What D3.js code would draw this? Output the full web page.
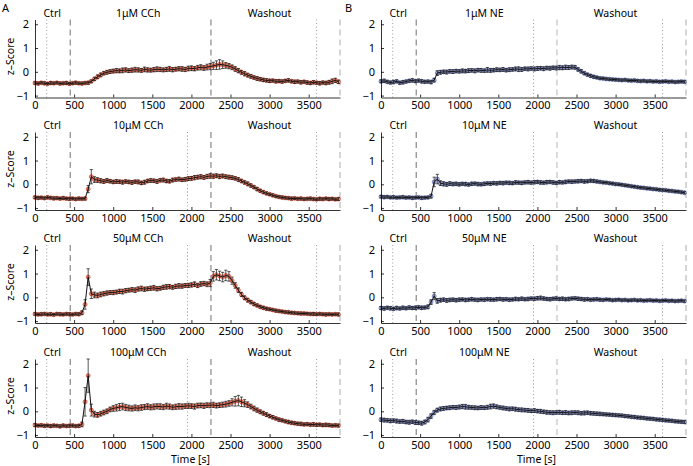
<!DOCTYPE html>
<html>
<head>
<meta charset="utf-8">
<script src="https://cdn.jsdelivr.net/npm/d3@7"></script>
<style>
  body { margin: 0; background: #fff; }
  svg { font-family: "Noto Sans", "Open Sans", sans-serif; }
</style>
</head>
<body>
<div id="wrapper"></div>
<script>
/* global d3 */

// sample times (s), one mean every 40 s
const times = d3.range(0, 3881, 40)

// panel labels
const phaseLabels = ["Ctrl", "Washout"]
const cchLabels = ["1\u03bcM CCh", "10\u03bcM CCh", "50\u03bcM CCh", "100\u03bcM CCh"]
const neLabels = ["1\u03bcM NE", "10\u03bcM NE", "50\u03bcM NE", "100\u03bcM NE"]

// tick labels
const xTicks = [0, 500, 1000, 1500, 2000, 2500, 3000, 3500]
const yTicks = [-1, 0, 1, 2]

// event lines (s)
const dashedTimes = [450, 2250, 3900]
const dottedTimes = [150, 1950, 3600]

// column A: carbachol, z-score means
const cch1 = [
  -0.47,-0.49,-0.46,-0.48,-0.5,-0.47,-0.48,-0.46,-0.49,-0.48,-0.47,-0.5,-0.48,-0.46,-0.48,-0.49,-0.47,-0.46,
  -0.4,-0.3,-0.21,-0.13,-0.06,-0.02,0.01,
  0.03,0.05,0.04,0.06,0.08,0.05,0.07,0.09,0.08,0.06,0.1,0.08,0.07,0.09,0.11,0.1,0.08,0.1,0.12,0.09,0.11,0.13,0.12,0.1,0.14,
  0.15,0.13,0.17,0.19,0.16,0.2,0.22,0.25,0.28,0.31,0.3,0.27,
  0.24,0.19,0.12,0.05,-0.02,-0.08,-0.14,-0.19,-0.24,-0.28,-0.31,-0.34,-0.36,
  -0.38,-0.37,-0.4,-0.39,-0.41,-0.38,-0.36,-0.4,-0.42,-0.41,-0.44,-0.42,-0.45,-0.47,-0.44,-0.46,-0.48,-0.45,-0.47,-0.44,-0.4,-0.36,-0.42
]
const cch1Err = [
  .05,.06,.05,.06,.05,.06,.05,.05,.06,.05,.06,.05,.05,.06,.05,.06,.05,.06,
  .06,.07,.08,.08,.07,.08,.08,
  .08,.09,.08,.1,.09,.08,.09,.1,.09,.08,.1,.09,.08,.09,.1,.09,.08,.09,.1,.09,.08,.09,.1,.09,.1,
  .1,.09,.1,.11,.1,.12,.13,.15,.18,.2,.16,.12,
  .11,.1,.1,.09,.08,.09,.08,.08,.07,.08,.07,.07,.07,
  .07,.06,.07,.06,.07,.06,.07,.06,.07,.06,.07,.06,.07,.06,.07,.06,.07,.06,.07,.08,.1,.09,.07
]
const cch10 = [
  -0.55,-0.57,-0.56,-0.58,-0.55,-0.57,-0.59,-0.58,-0.6,-0.58,-0.6,-0.61,-0.6,-0.62,-0.6,-0.61,-0.6,
  -0.2,0.32,
  0.2,0.18,0.15,0.12,0.16,0.13,
  0.1,0.12,0.11,0.09,0.12,0.1,0.08,0.11,0.1,0.06,0.09,0.14,0.16,0.15,0.12,0.17,0.18,0.14,0.13,0.18,0.2,0.22,0.19,0.21,0.24,
  0.25,0.28,0.3,0.32,0.29,0.33,0.35,0.34,0.36,0.33,0.35,0.32,
  0.3,0.28,0.25,0.2,0.14,0.08,0.02,-0.05,-0.12,-0.2,-0.27,-0.33,-0.38,
  -0.42,-0.46,-0.5,-0.53,-0.55,-0.57,-0.58,-0.6,-0.59,-0.61,-0.6,-0.62,-0.61,-0.6,-0.62,-0.63,-0.61,-0.62,-0.6,-0.62,-0.61,-0.63,-0.62
]
const cch10Err = [
  .05,.06,.05,.05,.06,.05,.06,.05,.05,.06,.05,.06,.05,.05,.06,.05,.06,
  .15,.3,
  .12,.1,.09,.08,.08,.07,
  .07,.08,.07,.08,.07,.07,.08,.07,.08,.07,.08,.07,.08,.07,.08,.07,.08,.07,.07,.08,.07,.08,.07,.08,.08,
  .08,.09,.08,.09,.08,.09,.1,.09,.08,.09,.08,.08,
  .08,.08,.07,.08,.07,.07,.08,.07,.06,.07,.06,.06,.06,
  .05,.06,.05,.05,.06,.05,.05,.06,.05,.05,.06,.05,.05,.06,.05,.05,.06,.05,.05,.06,.05,.05,.06
]
const cch50 = [
  -0.7,-0.72,-0.71,-0.7,-0.72,-0.71,-0.73,-0.7,-0.71,-0.72,-0.7,-0.71,-0.72,-0.7,-0.71,
  -0.65,-0.3,0.85,0.15,
  0.1,0.08,0.12,0.15,0.18,0.2,
  0.2,0.22,0.25,0.24,0.28,0.3,0.32,0.3,0.35,0.37,0.34,0.36,0.38,0.4,0.36,0.38,0.42,0.44,0.45,0.42,0.46,0.48,0.47,0.5,0.5,
  0.52,0.55,0.5,0.56,0.58,0.55,
  0.6,0.88,0.95,0.9,0.85,0.92,0.88,
  0.7,0.5,0.3,0.12,-0.02,-0.12,-0.2,-0.28,-0.34,-0.4,-0.44,-0.48,
  -0.5,-0.53,-0.56,-0.58,-0.6,-0.62,-0.63,-0.65,-0.66,-0.67,-0.68,-0.68,-0.69,-0.7,-0.7,-0.71,-0.7,-0.71,-0.72,-0.71,-0.72,-0.71,-0.72
]
const cch50Err = [
  .05,.05,.06,.05,.05,.06,.05,.05,.06,.05,.05,.06,.05,.05,.06,
  .08,.2,.35,.2,
  .12,.1,.1,.09,.09,.08,
  .09,.08,.09,.1,.09,.08,.09,.1,.09,.1,.09,.08,.09,.1,.09,.08,.09,.1,.09,.08,.09,.1,.09,.08,.09,
  .09,.1,.09,.1,.09,.1,
  .15,.2,.22,.2,.2,.22,.2,
  .15,.12,.1,.09,.08,.08,.07,.07,.06,.06,.06,.06,
  .05,.05,.06,.05,.05,.05,.06,.05,.05,.05,.06,.05,.05,.05,.06,.05,.05,.05,.06,.05,.05,.05,.06
]
const cch100 = [
  -0.58,-0.6,-0.59,-0.61,-0.6,-0.62,-0.6,-0.61,-0.63,-0.6,-0.62,-0.61,-0.6,-0.62,-0.61,
  -0.55,0.4,1.5,0.05,
  -0.12,-0.15,-0.1,-0.05,0.0,0.08,
  0.12,0.15,0.18,0.2,0.16,0.14,0.12,0.15,0.13,0.16,0.18,0.2,0.17,0.19,0.21,0.2,0.18,0.22,0.2,0.17,0.19,0.21,0.2,0.22,0.23,
  0.22,0.2,0.24,0.25,0.23,0.26,0.25,0.27,0.24,0.26,0.28,0.3,
  0.33,0.38,0.42,0.45,0.4,0.34,0.28,0.2,0.12,0.05,-0.02,-0.08,-0.14,
  -0.2,-0.25,-0.3,-0.35,-0.38,-0.42,-0.45,-0.48,-0.5,-0.52,-0.53,-0.55,-0.54,-0.56,-0.55,-0.57,-0.56,-0.58,-0.57,-0.58,-0.6,-0.59,-0.6
]
const cch100Err = [
  .06,.05,.06,.06,.05,.06,.06,.05,.06,.06,.05,.06,.06,.05,.06,
  .1,.6,.7,.25,
  .12,.1,.1,.1,.1,.1,
  .12,.14,.15,.14,.13,.12,.11,.12,.11,.12,.11,.12,.11,.12,.11,.12,.11,.12,.11,.1,.11,.12,.11,.1,.11,
  .1,.11,.1,.1,.11,.1,.1,.11,.1,.1,.11,.12,
  .12,.15,.2,.22,.2,.15,.12,.1,.1,.09,.08,.08,.08,
  .07,.07,.06,.07,.06,.06,.07,.06,.06,.06,.07,.06,.06,.06,.07,.06,.06,.06,.07,.06,.06,.06,.06
]

// column B: norepinephrine, z-score means
const ne1 = [
  -0.4,-0.38,-0.42,-0.45,-0.43,-0.4,-0.46,-0.44,-0.41,-0.38,-0.36,-0.39,-0.37,-0.4,-0.42,-0.41,-0.43,
  -0.35,-0.05,
  -0.02,0.0,-0.01,0.02,0.01,0.03,
  0.02,0.04,0.03,0.05,0.06,0.04,0.07,0.06,0.05,0.08,0.06,0.07,0.09,0.08,0.1,0.07,0.09,0.1,0.12,0.11,0.1,0.13,0.12,0.14,0.12,
  0.14,0.15,0.13,0.16,0.15,0.17,0.16,0.18,0.17,0.19,0.18,0.2,
  0.19,0.1,0.02,-0.06,-0.12,-0.17,-0.21,-0.24,-0.27,-0.28,-0.3,-0.31,-0.32,
  -0.33,-0.34,-0.35,-0.34,-0.36,-0.37,-0.36,-0.38,-0.39,-0.38,-0.4,-0.39,-0.41,-0.4,-0.42,-0.41,-0.4,-0.42,-0.41,-0.43,-0.42,-0.41,-0.42
]
const ne1Err = [
  .06,.07,.06,.06,.07,.06,.06,.07,.06,.06,.07,.06,.06,.07,.06,.06,.07,
  .08,.1,
  .08,.07,.08,.07,.08,.07,
  .07,.08,.07,.08,.07,.08,.07,.08,.07,.1,.08,.07,.08,.07,.08,.07,.08,.07,.08,.1,.08,.07,.08,.07,.08,
  .08,.07,.08,.07,.08,.07,.08,.09,.08,.09,.08,.08,
  .08,.07,.07,.06,.06,.06,.06,.05,.05,.05,.05,.05,.05,
  .05,.05,.05,.05,.05,.05,.05,.05,.05,.05,.05,.05,.05,.05,.05,.05,.05,.05,.05,.05,.05,.05,.05
]
const ne10 = [
  -0.52,-0.54,-0.53,-0.55,-0.54,-0.56,-0.55,-0.54,-0.56,-0.55,-0.57,-0.56,-0.55,-0.57,-0.56,-0.55,
  -0.5,0.1,0.22,
  0.05,0.02,0.0,0.03,0.01,0.02,
  0.0,0.02,0.01,-0.01,0.02,0.03,0.01,0.0,0.02,0.04,0.03,0.05,0.04,0.06,0.05,0.07,0.06,0.05,0.08,0.07,0.06,0.08,0.09,0.07,0.09,
  0.1,0.08,0.07,0.09,0.1,0.08,0.06,0.09,0.08,0.1,0.12,0.11,
  0.12,0.13,0.14,0.12,0.13,0.15,0.14,0.12,0.1,0.08,0.07,0.05,0.03,
  0.01,0.0,-0.02,-0.04,-0.06,-0.08,-0.1,-0.12,-0.14,-0.15,-0.17,-0.18,-0.2,-0.21,-0.23,-0.24,-0.25,-0.27,-0.28,-0.3,-0.31,-0.33,-0.35
]
const ne10Err = [
  .05,.06,.05,.05,.06,.05,.05,.06,.05,.05,.06,.05,.05,.06,.05,.05,
  .08,.2,.2,
  .1,.09,.08,.08,.07,.07,
  .07,.06,.07,.06,.07,.06,.07,.06,.07,.06,.07,.06,.07,.06,.07,.06,.07,.06,.07,.06,.07,.06,.07,.06,.07,
  .06,.07,.06,.07,.06,.07,.06,.07,.06,.07,.06,.07,
  .06,.07,.06,.07,.06,.06,.06,.06,.05,.05,.05,.05,.05,
  .05,.05,.05,.05,.05,.05,.05,.05,.05,.05,.05,.05,.05,.05,.05,.05,.05,.05,.05,.05,.05,.05,.05
]
const ne50 = [
  -0.45,-0.47,-0.44,-0.46,-0.48,-0.45,-0.47,-0.44,-0.46,-0.43,-0.45,-0.44,-0.42,-0.44,-0.43,
  -0.4,-0.2,0.05,-0.15,
  -0.12,-0.1,-0.13,-0.11,-0.1,-0.12,
  -0.1,-0.09,-0.11,-0.1,-0.08,-0.1,-0.11,-0.09,-0.1,-0.08,-0.09,-0.1,-0.08,-0.07,-0.09,-0.08,-0.1,-0.09,-0.07,-0.08,-0.06,-0.08,-0.07,-0.05,-0.06,
  -0.04,-0.03,-0.05,-0.07,-0.08,-0.06,-0.05,-0.07,-0.06,-0.08,-0.07,-0.05,
  -0.04,-0.06,-0.07,-0.09,-0.08,-0.1,-0.09,-0.08,-0.1,-0.11,-0.09,-0.1,-0.12,
  -0.11,-0.1,-0.12,-0.11,-0.13,-0.12,-0.11,-0.13,-0.12,-0.14,-0.13,-0.12,-0.14,-0.13,-0.15,-0.14,-0.13,-0.15,-0.14,-0.16,-0.15,-0.14,-0.16
]
const ne50Err = [
  .06,.07,.06,.07,.06,.07,.06,.07,.06,.07,.06,.07,.06,.07,.06,
  .08,.1,.15,.1,
  .08,.07,.08,.07,.07,.07,
  .07,.06,.07,.06,.07,.06,.07,.06,.07,.06,.07,.06,.07,.06,.07,.06,.07,.06,.07,.06,.07,.06,.07,.06,.07,
  .07,.08,.07,.06,.07,.06,.07,.06,.07,.06,.07,.06,
  .06,.07,.06,.07,.06,.06,.06,.06,.06,.05,.05,.05,.05,
  .05,.05,.05,.05,.05,.05,.05,.05,.05,.05,.05,.05,.05,.05,.05,.05,.05,.05,.05,.05,.05,.05,.05
]
const ne100 = [
  -0.35,-0.37,-0.38,-0.4,-0.39,-0.41,-0.43,-0.42,-0.45,-0.46,-0.44,-0.47,-0.48,-0.5,
  -0.45,-0.35,-0.2,-0.05,0.05,0.1,
  0.12,0.14,0.15,0.17,0.16,
  0.18,0.2,0.19,0.17,0.16,0.15,0.14,0.16,0.15,0.17,0.2,0.22,0.19,0.16,0.14,0.12,0.1,0.11,0.09,0.07,0.06,0.05,0.04,0.02,0.03,
  0.01,0.0,-0.02,-0.04,-0.05,-0.06,-0.05,-0.04,-0.06,-0.05,-0.07,-0.06,
  -0.05,-0.06,-0.08,-0.07,-0.06,-0.08,-0.09,-0.1,-0.11,-0.12,-0.13,-0.14,-0.15,
  -0.16,-0.17,-0.18,-0.2,-0.21,-0.23,-0.24,-0.26,-0.27,-0.28,-0.3,-0.31,-0.32,-0.34,-0.35,-0.36,-0.38,-0.39,-0.4,-0.42,-0.43,-0.44,-0.45
]
const ne100Err = [
  .07,.08,.07,.08,.07,.08,.07,.08,.07,.08,.07,.08,.07,.08,
  .08,.1,.1,.09,.08,.08,
  .08,.07,.08,.07,.08,
  .08,.09,.1,.08,.07,.08,.07,.08,.07,.08,.1,.09,.08,.07,.08,.07,.08,.07,.08,.07,.08,.07,.08,.07,.08,
  .07,.08,.07,.08,.07,.08,.07,.08,.07,.08,.07,.08,
  .07,.08,.07,.08,.07,.07,.07,.07,.07,.06,.06,.06,.06,
  .06,.06,.06,.06,.06,.06,.06,.06,.06,.06,.06,.06,.06,.06,.06,.06,.06,.06,.06,.06,.06,.06,.06
]

const cchSeries = [[cch1, cch1Err], [cch10, cch10Err], [cch50, cch50Err], [cch100, cch100Err]]
const neSeries = [[ne1, ne1Err], [ne10, ne10Err], [ne50, ne50Err], [ne100, ne100Err]]

function drawFigure() {
  const dimensions = {
    width: 693,
    height: 466,
    panelHeight: 78,
    // bottom (x axis) of each row of panels
    rowBottoms: [97.5, 210, 323, 437],
    columns: [
      { left: 35, right: 340 },
      { left: 381, right: 686 },
    ],
  }

  const wrapper = d3.select("#wrapper")
    .append("svg")
    .attr("width", dimensions.width)
    .attr("height", dimensions.height)

  const columns = [
    { letter: "A", labels: cchLabels, series: cchSeries,
      marker: "#e0523a", markerFill: "#ef9a86", washLine: "#333" },
    { letter: "B", labels: neLabels, series: neSeries,
      marker: "#6c78b8", markerFill: "#aab2dd", washLine: "#999" },
  ]

  columns.forEach((col, c) => {
    const dim = dimensions.columns[c]
    const xScale = d3.scaleLinear()
      .domain([0, 3900])
      .range([dim.left, dim.right])

    // panel letter
    wrapper.append("text")
      .attr("x", c === 0 ? 2 : 345)
      .attr("y", 12)
      .style("font-size", "11px")
      .text(col.letter)

    col.series.forEach(([values, errors], r) => {
      const bottom = dimensions.rowBottoms[r]
      const top = bottom - dimensions.panelHeight
      const yScale = d3.scaleLinear()
        .domain([-1.08, 2.2])
        .range([bottom, top])

      const panel = wrapper.append("g")

      // event lines
      dottedTimes.forEach(t => {
        if (c === 0 && r === 0 && t === 1950) return
        panel.append("line")
          .attr("x1", xScale(t)).attr("x2", xScale(t))
          .attr("y1", top).attr("y2", bottom)
          .attr("stroke", "#777")
          .attr("stroke-width", 0.7)
          .attr("stroke-dasharray", "1,2.5")
      })
      dashedTimes.forEach(t => {
        panel.append("line")
          .attr("x1", xScale(t)).attr("x2", xScale(t))
          .attr("y1", top).attr("y2", bottom)
          .attr("stroke", t === 2250 ? col.washLine : (t === 3900 ? "#888" : "#333"))
          .attr("stroke-width", 0.7)
          .attr("stroke-dasharray", "6,4")
      })

      const points = times.map((t, i) => ({ t, v: values[i], e: errors[i] }))

      // markers
      panel.append("g")
        .selectAll("circle")
        .data(points)
        .join("circle")
          .attr("cx", d => xScale(d.t))
          .attr("cy", d => yScale(d.v))
          .attr("r", 2)
          .attr("fill", col.markerFill)
          .attr("stroke", col.marker)
          .attr("stroke-width", 0.8)

      // error bars
      const bars = panel.append("g")
        .attr("stroke", "#111")
        .attr("stroke-width", 0.7)
      bars.selectAll("path")
        .data(points)
        .join("path")
          .attr("d", d => {
            const x = xScale(d.t)
            const y0 = yScale(d.v - d.e)
            const y1 = yScale(d.v + d.e)
            return `M${x},${y0}V${y1}M${x - 1.6},${y0}H${x + 1.6}M${x - 1.6},${y1}H${x + 1.6}`
          })
          .attr("fill", "none")

      // mean line
      const lineGenerator = d3.line()
        .x(d => xScale(d.t))
        .y(d => yScale(d.v))
      panel.append("path")
        .datum(points)
        .attr("d", lineGenerator)
        .attr("fill", "none")
        .attr("stroke", "#111")
        .attr("stroke-width", 1)

      // axes
      const xAxisGenerator = d3.axisBottom(xScale)
        .tickValues(xTicks)
        .tickFormat(d3.format("d"))
        .tickSizeInner(-3)
        .tickSizeOuter(0)
        .tickPadding(4)
      const xAxis = panel.append("g")
        .attr("transform", `translate(0,${bottom})`)
        .call(xAxisGenerator)

      const yAxisGenerator = d3.axisLeft(yScale)
        .tickValues(yTicks)
        .tickFormat(d3.format("d"))
        .tickSizeInner(-3)
        .tickSizeOuter(0)
        .tickPadding(6)
      const yAxis = panel.append("g")
        .attr("transform", `translate(${dim.left},0)`)
        .call(yAxisGenerator)

      ;[xAxis, yAxis].forEach(axis => {
        axis.selectAll("text")
          .style("font-size", "11px")
          .style("font-family", "'Noto Sans', sans-serif")
          .attr("fill", "#000")
        axis.selectAll("line, path").attr("stroke", "#000").attr("stroke-width", 0.8)
      })

      // phase labels
      const labelY = top - 3
      const phases = [
        { t: 220, text: phaseLabels[0] },
        { t: 1320, text: col.labels[r] },
        { t: 3000, text: phaseLabels[1] },
      ]
      panel.selectAll(".phase")
        .data(phases)
        .join("text")
          .attr("class", "phase")
          .attr("x", d => xScale(d.t))
          .attr("y", labelY)
          .attr("text-anchor", "middle")
          .style("font-size", "10.5px")
          .text(d => d.text)

      // y label on the left column only
      if (c === 0) {
        panel.append("text")
          .attr("transform", `translate(14,${(top + bottom) / 2 - 2}) rotate(-90)`)
          .attr("text-anchor", "middle")
          .style("font-size", "10.5px")
          .text("z\u2013Score")
      }
    })

    // x label
    wrapper.append("text")
      .attr("x", (dim.left + dim.right) / 2 + 3)
      .attr("y", 463)
      .attr("text-anchor", "middle")
      .style("font-size", "10.5px")
      .text("Time [s]")
  })
}
drawFigure()
</script>
</body>
</html>
